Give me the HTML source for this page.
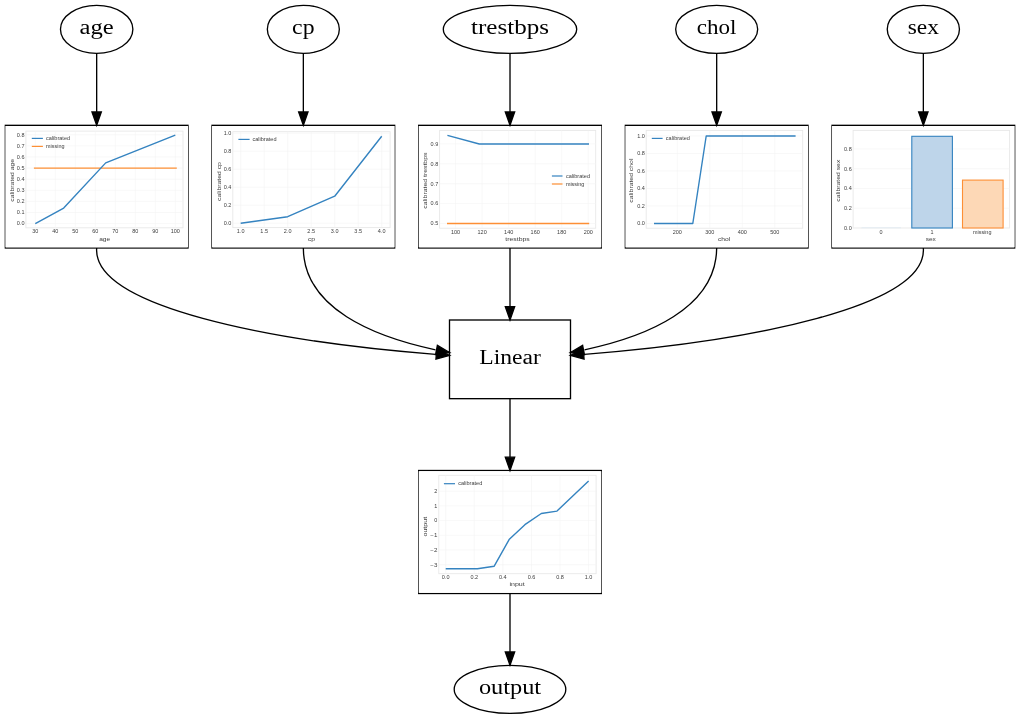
<!DOCTYPE html><html><head><meta charset="utf-8"><style>
html,body{margin:0;padding:0;background:#fff;}svg{display:block;will-change:transform;}
.lbl{font-family:"Liberation Serif",serif;font-size:19.98px;fill:#000;}
.s{font-family:"Liberation Sans",sans-serif;fill:#3c3c3c;}
</style></head><body>
<svg width="1020" height="719" viewBox="0 0 1020 719">
<rect width="1020" height="719" fill="#fff"/>
<rect x="5.34" y="125.33" width="182.66" height="122.67" fill="none" stroke="#000" stroke-width="1.333"/>
<rect x="5.34" y="126" width="182.66" height="121.34" fill="#fff"/>
<rect x="212.01" y="125.33" width="182.66" height="122.67" fill="none" stroke="#000" stroke-width="1.333"/>
<rect x="212.01" y="126" width="182.66" height="121.34" fill="#fff"/>
<rect x="418.68" y="125.33" width="182.66" height="122.67" fill="none" stroke="#000" stroke-width="1.333"/>
<rect x="418.68" y="126" width="182.66" height="121.34" fill="#fff"/>
<rect x="625.35" y="125.33" width="182.66" height="122.67" fill="none" stroke="#000" stroke-width="1.333"/>
<rect x="625.35" y="126" width="182.66" height="121.34" fill="#fff"/>
<rect x="832.02" y="125.33" width="182.66" height="122.67" fill="none" stroke="#000" stroke-width="1.333"/>
<rect x="832.02" y="126" width="182.66" height="121.34" fill="#fff"/>
<rect x="418.67" y="470.5" width="182.66" height="123" fill="none" stroke="#000" stroke-width="1.333"/>
<rect x="418.67" y="471.17" width="182.66" height="121.67" fill="#fff"/>
<defs><filter id="bl" x="-2%" y="-2%" width="104%" height="104%"><feGaussianBlur stdDeviation="0.35"/></filter></defs>
<g filter="url(#bl)">
<rect x="25.9" y="131.1" width="157.1" height="96.7" fill="#fff" stroke="#e8e8e8" stroke-width="0.9"/>
<line x1="35.3" y1="131.1" x2="35.3" y2="227.8" stroke="#f4f4f4" stroke-width="0.6"/>
<line x1="55.3" y1="131.1" x2="55.3" y2="227.8" stroke="#f4f4f4" stroke-width="0.6"/>
<line x1="75.3" y1="131.1" x2="75.3" y2="227.8" stroke="#f4f4f4" stroke-width="0.6"/>
<line x1="95.3" y1="131.1" x2="95.3" y2="227.8" stroke="#f4f4f4" stroke-width="0.6"/>
<line x1="115.3" y1="131.1" x2="115.3" y2="227.8" stroke="#f4f4f4" stroke-width="0.6"/>
<line x1="135.3" y1="131.1" x2="135.3" y2="227.8" stroke="#f4f4f4" stroke-width="0.6"/>
<line x1="155.3" y1="131.1" x2="155.3" y2="227.8" stroke="#f4f4f4" stroke-width="0.6"/>
<line x1="175.3" y1="131.1" x2="175.3" y2="227.8" stroke="#f4f4f4" stroke-width="0.6"/>
<line x1="25.9" y1="223.6" x2="183" y2="223.6" stroke="#f4f4f4" stroke-width="0.6"/>
<line x1="25.9" y1="212.5" x2="183" y2="212.5" stroke="#f4f4f4" stroke-width="0.6"/>
<line x1="25.9" y1="201.4" x2="183" y2="201.4" stroke="#f4f4f4" stroke-width="0.6"/>
<line x1="25.9" y1="190.3" x2="183" y2="190.3" stroke="#f4f4f4" stroke-width="0.6"/>
<line x1="25.9" y1="179.2" x2="183" y2="179.2" stroke="#f4f4f4" stroke-width="0.6"/>
<line x1="25.9" y1="168.1" x2="183" y2="168.1" stroke="#f4f4f4" stroke-width="0.6"/>
<line x1="25.9" y1="157" x2="183" y2="157" stroke="#f4f4f4" stroke-width="0.6"/>
<line x1="25.9" y1="145.9" x2="183" y2="145.9" stroke="#f4f4f4" stroke-width="0.6"/>
<line x1="25.9" y1="134.8" x2="183" y2="134.8" stroke="#f4f4f4" stroke-width="0.6"/>
<text x="35.3" y="233.4" font-size="5.04" text-anchor="middle" textLength="6.11" lengthAdjust="spacingAndGlyphs" class="s">30</text>
<text x="55.3" y="233.4" font-size="5.04" text-anchor="middle" textLength="6.11" lengthAdjust="spacingAndGlyphs" class="s">40</text>
<text x="75.3" y="233.4" font-size="5.04" text-anchor="middle" textLength="6.11" lengthAdjust="spacingAndGlyphs" class="s">50</text>
<text x="95.3" y="233.4" font-size="5.04" text-anchor="middle" textLength="6.11" lengthAdjust="spacingAndGlyphs" class="s">60</text>
<text x="115.3" y="233.4" font-size="5.04" text-anchor="middle" textLength="6.11" lengthAdjust="spacingAndGlyphs" class="s">70</text>
<text x="135.3" y="233.4" font-size="5.04" text-anchor="middle" textLength="6.11" lengthAdjust="spacingAndGlyphs" class="s">80</text>
<text x="155.3" y="233.4" font-size="5.04" text-anchor="middle" textLength="6.11" lengthAdjust="spacingAndGlyphs" class="s">90</text>
<text x="175.3" y="233.4" font-size="5.04" text-anchor="middle" textLength="9.16" lengthAdjust="spacingAndGlyphs" class="s">100</text>
<text x="24.5" y="225.4" font-size="5.04" text-anchor="end" textLength="7.63" lengthAdjust="spacingAndGlyphs" class="s">0.0</text>
<text x="24.5" y="214.3" font-size="5.04" text-anchor="end" textLength="7.63" lengthAdjust="spacingAndGlyphs" class="s">0.1</text>
<text x="24.5" y="203.2" font-size="5.04" text-anchor="end" textLength="7.63" lengthAdjust="spacingAndGlyphs" class="s">0.2</text>
<text x="24.5" y="192.1" font-size="5.04" text-anchor="end" textLength="7.63" lengthAdjust="spacingAndGlyphs" class="s">0.3</text>
<text x="24.5" y="181" font-size="5.04" text-anchor="end" textLength="7.63" lengthAdjust="spacingAndGlyphs" class="s">0.4</text>
<text x="24.5" y="169.9" font-size="5.04" text-anchor="end" textLength="7.63" lengthAdjust="spacingAndGlyphs" class="s">0.5</text>
<text x="24.5" y="158.8" font-size="5.04" text-anchor="end" textLength="7.63" lengthAdjust="spacingAndGlyphs" class="s">0.6</text>
<text x="24.5" y="147.7" font-size="5.04" text-anchor="end" textLength="7.63" lengthAdjust="spacingAndGlyphs" class="s">0.7</text>
<text x="24.5" y="136.6" font-size="5.04" text-anchor="end" textLength="7.63" lengthAdjust="spacingAndGlyphs" class="s">0.8</text>
<text x="104.7" y="240.7" font-size="6.25" text-anchor="middle" textLength="11.08" lengthAdjust="spacingAndGlyphs" class="s">age</text>
<text x="0" y="0" font-size="6.25" text-anchor="middle" textLength="42.84" lengthAdjust="spacingAndGlyphs" class="s" transform="translate(13.9,180.3) rotate(-90)">calibrated age</text>
<polyline points="33.9,168.1 176.8,168.1" fill="none" stroke="#fd8f35" stroke-width="1.4" stroke-linejoin="round"/>
<polyline points="35.3,223.6 63.7,208.06 105.7,162.88 175.3,135.13" fill="none" stroke="#3483c0" stroke-width="1.4" stroke-linejoin="round"/>
<line x1="31.8" y1="138.4" x2="42.9" y2="138.4" stroke="#3483c0" stroke-width="1.2"/>
<text x="46" y="140.1" font-size="5.04" text-anchor="start" textLength="24.09" lengthAdjust="spacingAndGlyphs" class="s">calibrated</text>
<line x1="31.8" y1="146.4" x2="42.9" y2="146.4" stroke="#fd8f35" stroke-width="1.2"/>
<text x="46" y="148.1" font-size="5.04" text-anchor="start" textLength="18.43" lengthAdjust="spacingAndGlyphs" class="s">missing</text>
<rect x="232.8" y="131.7" width="157.3" height="95.9" fill="#fff" stroke="#e8e8e8" stroke-width="0.9"/>
<line x1="240.7" y1="131.7" x2="240.7" y2="227.6" stroke="#f4f4f4" stroke-width="0.6"/>
<line x1="264.2" y1="131.7" x2="264.2" y2="227.6" stroke="#f4f4f4" stroke-width="0.6"/>
<line x1="287.7" y1="131.7" x2="287.7" y2="227.6" stroke="#f4f4f4" stroke-width="0.6"/>
<line x1="311.2" y1="131.7" x2="311.2" y2="227.6" stroke="#f4f4f4" stroke-width="0.6"/>
<line x1="334.7" y1="131.7" x2="334.7" y2="227.6" stroke="#f4f4f4" stroke-width="0.6"/>
<line x1="358.2" y1="131.7" x2="358.2" y2="227.6" stroke="#f4f4f4" stroke-width="0.6"/>
<line x1="381.7" y1="131.7" x2="381.7" y2="227.6" stroke="#f4f4f4" stroke-width="0.6"/>
<line x1="232.8" y1="223.2" x2="390.1" y2="223.2" stroke="#f4f4f4" stroke-width="0.6"/>
<line x1="232.8" y1="205.2" x2="390.1" y2="205.2" stroke="#f4f4f4" stroke-width="0.6"/>
<line x1="232.8" y1="187.2" x2="390.1" y2="187.2" stroke="#f4f4f4" stroke-width="0.6"/>
<line x1="232.8" y1="169.2" x2="390.1" y2="169.2" stroke="#f4f4f4" stroke-width="0.6"/>
<line x1="232.8" y1="151.2" x2="390.1" y2="151.2" stroke="#f4f4f4" stroke-width="0.6"/>
<line x1="232.8" y1="133.2" x2="390.1" y2="133.2" stroke="#f4f4f4" stroke-width="0.6"/>
<text x="240.7" y="233.2" font-size="5.04" text-anchor="middle" textLength="7.63" lengthAdjust="spacingAndGlyphs" class="s">1.0</text>
<text x="264.2" y="233.2" font-size="5.04" text-anchor="middle" textLength="7.63" lengthAdjust="spacingAndGlyphs" class="s">1.5</text>
<text x="287.7" y="233.2" font-size="5.04" text-anchor="middle" textLength="7.63" lengthAdjust="spacingAndGlyphs" class="s">2.0</text>
<text x="311.2" y="233.2" font-size="5.04" text-anchor="middle" textLength="7.63" lengthAdjust="spacingAndGlyphs" class="s">2.5</text>
<text x="334.7" y="233.2" font-size="5.04" text-anchor="middle" textLength="7.63" lengthAdjust="spacingAndGlyphs" class="s">3.0</text>
<text x="358.2" y="233.2" font-size="5.04" text-anchor="middle" textLength="7.63" lengthAdjust="spacingAndGlyphs" class="s">3.5</text>
<text x="381.7" y="233.2" font-size="5.04" text-anchor="middle" textLength="7.63" lengthAdjust="spacingAndGlyphs" class="s">4.0</text>
<text x="231.4" y="225" font-size="5.04" text-anchor="end" textLength="7.63" lengthAdjust="spacingAndGlyphs" class="s">0.0</text>
<text x="231.4" y="207" font-size="5.04" text-anchor="end" textLength="7.63" lengthAdjust="spacingAndGlyphs" class="s">0.2</text>
<text x="231.4" y="189" font-size="5.04" text-anchor="end" textLength="7.63" lengthAdjust="spacingAndGlyphs" class="s">0.4</text>
<text x="231.4" y="171" font-size="5.04" text-anchor="end" textLength="7.63" lengthAdjust="spacingAndGlyphs" class="s">0.6</text>
<text x="231.4" y="153" font-size="5.04" text-anchor="end" textLength="7.63" lengthAdjust="spacingAndGlyphs" class="s">0.8</text>
<text x="231.4" y="135" font-size="5.04" text-anchor="end" textLength="7.63" lengthAdjust="spacingAndGlyphs" class="s">1.0</text>
<text x="311.4" y="241" font-size="6.25" text-anchor="middle" textLength="7.05" lengthAdjust="spacingAndGlyphs" class="s">cp</text>
<text x="0" y="0" font-size="6.25" text-anchor="middle" textLength="38.8" lengthAdjust="spacingAndGlyphs" class="s" transform="translate(220.5,181.5) rotate(-90)">calibrated cp</text>
<polyline points="240.7,223.2 287.7,216.72 334.7,196.2 381.7,136.26" fill="none" stroke="#3483c0" stroke-width="1.4" stroke-linejoin="round"/>
<line x1="238.4" y1="139.4" x2="249.6" y2="139.4" stroke="#3483c0" stroke-width="1.2"/>
<text x="252.4" y="141.1" font-size="5.04" text-anchor="start" textLength="24.09" lengthAdjust="spacingAndGlyphs" class="s">calibrated</text>
<rect x="439.6" y="130.4" width="156.1" height="97.8" fill="#fff" stroke="#e8e8e8" stroke-width="0.9"/>
<line x1="455.6" y1="130.4" x2="455.6" y2="228.2" stroke="#f4f4f4" stroke-width="0.6"/>
<line x1="482.13" y1="130.4" x2="482.13" y2="228.2" stroke="#f4f4f4" stroke-width="0.6"/>
<line x1="508.66" y1="130.4" x2="508.66" y2="228.2" stroke="#f4f4f4" stroke-width="0.6"/>
<line x1="535.19" y1="130.4" x2="535.19" y2="228.2" stroke="#f4f4f4" stroke-width="0.6"/>
<line x1="561.72" y1="130.4" x2="561.72" y2="228.2" stroke="#f4f4f4" stroke-width="0.6"/>
<line x1="588.25" y1="130.4" x2="588.25" y2="228.2" stroke="#f4f4f4" stroke-width="0.6"/>
<line x1="439.6" y1="223.5" x2="595.7" y2="223.5" stroke="#f4f4f4" stroke-width="0.6"/>
<line x1="439.6" y1="203.6" x2="595.7" y2="203.6" stroke="#f4f4f4" stroke-width="0.6"/>
<line x1="439.6" y1="183.7" x2="595.7" y2="183.7" stroke="#f4f4f4" stroke-width="0.6"/>
<line x1="439.6" y1="163.8" x2="595.7" y2="163.8" stroke="#f4f4f4" stroke-width="0.6"/>
<line x1="439.6" y1="143.9" x2="595.7" y2="143.9" stroke="#f4f4f4" stroke-width="0.6"/>
<text x="455.6" y="233.8" font-size="5.04" text-anchor="middle" textLength="9.16" lengthAdjust="spacingAndGlyphs" class="s">100</text>
<text x="482.13" y="233.8" font-size="5.04" text-anchor="middle" textLength="9.16" lengthAdjust="spacingAndGlyphs" class="s">120</text>
<text x="508.66" y="233.8" font-size="5.04" text-anchor="middle" textLength="9.16" lengthAdjust="spacingAndGlyphs" class="s">140</text>
<text x="535.19" y="233.8" font-size="5.04" text-anchor="middle" textLength="9.16" lengthAdjust="spacingAndGlyphs" class="s">160</text>
<text x="561.72" y="233.8" font-size="5.04" text-anchor="middle" textLength="9.16" lengthAdjust="spacingAndGlyphs" class="s">180</text>
<text x="588.25" y="233.8" font-size="5.04" text-anchor="middle" textLength="9.16" lengthAdjust="spacingAndGlyphs" class="s">200</text>
<text x="438.2" y="225.3" font-size="5.04" text-anchor="end" textLength="7.63" lengthAdjust="spacingAndGlyphs" class="s">0.5</text>
<text x="438.2" y="205.4" font-size="5.04" text-anchor="end" textLength="7.63" lengthAdjust="spacingAndGlyphs" class="s">0.6</text>
<text x="438.2" y="185.5" font-size="5.04" text-anchor="end" textLength="7.63" lengthAdjust="spacingAndGlyphs" class="s">0.7</text>
<text x="438.2" y="165.6" font-size="5.04" text-anchor="end" textLength="7.63" lengthAdjust="spacingAndGlyphs" class="s">0.8</text>
<text x="438.2" y="145.7" font-size="5.04" text-anchor="end" textLength="7.63" lengthAdjust="spacingAndGlyphs" class="s">0.9</text>
<text x="517.5" y="240.9" font-size="6.25" text-anchor="middle" textLength="24.4" lengthAdjust="spacingAndGlyphs" class="s">trestbps</text>
<text x="0" y="0" font-size="6.25" text-anchor="middle" textLength="56.15" lengthAdjust="spacingAndGlyphs" class="s" transform="translate(427,180.65) rotate(-90)">calibrated trestbps</text>
<polyline points="447,223.5 589.2,223.5" fill="none" stroke="#fd8f35" stroke-width="1.4" stroke-linejoin="round"/>
<polyline points="447.4,135.4 479.3,144 589,144" fill="none" stroke="#3483c0" stroke-width="1.4" stroke-linejoin="round"/>
<line x1="551.9" y1="176" x2="562.5" y2="176" stroke="#3483c0" stroke-width="1.2"/>
<text x="565.9" y="177.7" font-size="5.04" text-anchor="start" textLength="24.09" lengthAdjust="spacingAndGlyphs" class="s">calibrated</text>
<line x1="551.9" y1="184" x2="562.5" y2="184" stroke="#fd8f35" stroke-width="1.2"/>
<text x="565.9" y="185.7" font-size="5.04" text-anchor="start" textLength="18.43" lengthAdjust="spacingAndGlyphs" class="s">missing</text>
<rect x="646.2" y="130.4" width="156.5" height="97.8" fill="#fff" stroke="#e8e8e8" stroke-width="0.9"/>
<line x1="677.3" y1="130.4" x2="677.3" y2="228.2" stroke="#f4f4f4" stroke-width="0.6"/>
<line x1="709.8" y1="130.4" x2="709.8" y2="228.2" stroke="#f4f4f4" stroke-width="0.6"/>
<line x1="742.3" y1="130.4" x2="742.3" y2="228.2" stroke="#f4f4f4" stroke-width="0.6"/>
<line x1="774.8" y1="130.4" x2="774.8" y2="228.2" stroke="#f4f4f4" stroke-width="0.6"/>
<line x1="646.2" y1="223.5" x2="802.7" y2="223.5" stroke="#f4f4f4" stroke-width="0.6"/>
<line x1="646.2" y1="206" x2="802.7" y2="206" stroke="#f4f4f4" stroke-width="0.6"/>
<line x1="646.2" y1="188.5" x2="802.7" y2="188.5" stroke="#f4f4f4" stroke-width="0.6"/>
<line x1="646.2" y1="171" x2="802.7" y2="171" stroke="#f4f4f4" stroke-width="0.6"/>
<line x1="646.2" y1="153.5" x2="802.7" y2="153.5" stroke="#f4f4f4" stroke-width="0.6"/>
<line x1="646.2" y1="136" x2="802.7" y2="136" stroke="#f4f4f4" stroke-width="0.6"/>
<text x="677.3" y="233.8" font-size="5.04" text-anchor="middle" textLength="9.16" lengthAdjust="spacingAndGlyphs" class="s">200</text>
<text x="709.8" y="233.8" font-size="5.04" text-anchor="middle" textLength="9.16" lengthAdjust="spacingAndGlyphs" class="s">300</text>
<text x="742.3" y="233.8" font-size="5.04" text-anchor="middle" textLength="9.16" lengthAdjust="spacingAndGlyphs" class="s">400</text>
<text x="774.8" y="233.8" font-size="5.04" text-anchor="middle" textLength="9.16" lengthAdjust="spacingAndGlyphs" class="s">500</text>
<text x="644.8" y="225.3" font-size="5.04" text-anchor="end" textLength="7.63" lengthAdjust="spacingAndGlyphs" class="s">0.0</text>
<text x="644.8" y="207.8" font-size="5.04" text-anchor="end" textLength="7.63" lengthAdjust="spacingAndGlyphs" class="s">0.2</text>
<text x="644.8" y="190.3" font-size="5.04" text-anchor="end" textLength="7.63" lengthAdjust="spacingAndGlyphs" class="s">0.4</text>
<text x="644.8" y="172.8" font-size="5.04" text-anchor="end" textLength="7.63" lengthAdjust="spacingAndGlyphs" class="s">0.6</text>
<text x="644.8" y="155.3" font-size="5.04" text-anchor="end" textLength="7.63" lengthAdjust="spacingAndGlyphs" class="s">0.8</text>
<text x="644.8" y="137.8" font-size="5.04" text-anchor="end" textLength="7.63" lengthAdjust="spacingAndGlyphs" class="s">1.0</text>
<text x="724.1" y="240.9" font-size="6.25" text-anchor="middle" textLength="12.34" lengthAdjust="spacingAndGlyphs" class="s">chol</text>
<text x="0" y="0" font-size="6.25" text-anchor="middle" textLength="44.09" lengthAdjust="spacingAndGlyphs" class="s" transform="translate(633,180.65) rotate(-90)">calibrated chol</text>
<polyline points="654,223.5 692.8,223.5 706.2,136 795.6,136" fill="none" stroke="#3483c0" stroke-width="1.4" stroke-linejoin="round"/>
<line x1="651.8" y1="138.4" x2="662.6" y2="138.4" stroke="#3483c0" stroke-width="1.2"/>
<text x="665.8" y="140.1" font-size="5.04" text-anchor="start" textLength="24.09" lengthAdjust="spacingAndGlyphs" class="s">calibrated</text>
<rect x="853.1" y="130.4" width="156.5" height="97.6" fill="#fff" stroke="#e8e8e8" stroke-width="0.9"/>
<line x1="853.1" y1="228" x2="1009.6" y2="228" stroke="#f4f4f4" stroke-width="0.6"/>
<line x1="853.1" y1="208.25" x2="1009.6" y2="208.25" stroke="#f4f4f4" stroke-width="0.6"/>
<line x1="853.1" y1="188.5" x2="1009.6" y2="188.5" stroke="#f4f4f4" stroke-width="0.6"/>
<line x1="853.1" y1="168.75" x2="1009.6" y2="168.75" stroke="#f4f4f4" stroke-width="0.6"/>
<line x1="853.1" y1="149" x2="1009.6" y2="149" stroke="#f4f4f4" stroke-width="0.6"/>
<text x="881.1" y="233.6" font-size="5.04" text-anchor="middle" textLength="3.05" lengthAdjust="spacingAndGlyphs" class="s">0</text>
<text x="932" y="233.6" font-size="5.04" text-anchor="middle" textLength="3.05" lengthAdjust="spacingAndGlyphs" class="s">1</text>
<text x="982.2" y="233.6" font-size="5.04" text-anchor="middle" textLength="18.43" lengthAdjust="spacingAndGlyphs" class="s">missing</text>
<text x="851.7" y="229.8" font-size="5.04" text-anchor="end" textLength="7.63" lengthAdjust="spacingAndGlyphs" class="s">0.0</text>
<text x="851.7" y="210.05" font-size="5.04" text-anchor="end" textLength="7.63" lengthAdjust="spacingAndGlyphs" class="s">0.2</text>
<text x="851.7" y="190.3" font-size="5.04" text-anchor="end" textLength="7.63" lengthAdjust="spacingAndGlyphs" class="s">0.4</text>
<text x="851.7" y="170.55" font-size="5.04" text-anchor="end" textLength="7.63" lengthAdjust="spacingAndGlyphs" class="s">0.6</text>
<text x="851.7" y="150.8" font-size="5.04" text-anchor="end" textLength="7.63" lengthAdjust="spacingAndGlyphs" class="s">0.8</text>
<text x="930.8" y="240.9" font-size="6.25" text-anchor="middle" textLength="10.18" lengthAdjust="spacingAndGlyphs" class="s">sex</text>
<text x="0" y="0" font-size="6.25" text-anchor="middle" textLength="41.93" lengthAdjust="spacingAndGlyphs" class="s" transform="translate(839.5,180.7) rotate(-90)">calibrated sex</text>
<rect x="911.8" y="136.3" width="40.6" height="91.7" fill="#bed5ea" stroke="#3483c0" stroke-width="1.1"/>
<rect x="962.5" y="180.1" width="40.6" height="47.9" fill="#fdd8b6" stroke="#fd8f35" stroke-width="1.1"/>
<line x1="861.5" y1="227.8" x2="901" y2="227.8" stroke="#d8e6f2" stroke-width="0.6"/>
<rect x="438.8" y="475.3" width="157.3" height="98.4" fill="#fff" stroke="#e8e8e8" stroke-width="0.9"/>
<line x1="445.7" y1="475.3" x2="445.7" y2="573.7" stroke="#f4f4f4" stroke-width="0.6"/>
<line x1="474.28" y1="475.3" x2="474.28" y2="573.7" stroke="#f4f4f4" stroke-width="0.6"/>
<line x1="502.86" y1="475.3" x2="502.86" y2="573.7" stroke="#f4f4f4" stroke-width="0.6"/>
<line x1="531.44" y1="475.3" x2="531.44" y2="573.7" stroke="#f4f4f4" stroke-width="0.6"/>
<line x1="560.02" y1="475.3" x2="560.02" y2="573.7" stroke="#f4f4f4" stroke-width="0.6"/>
<line x1="588.6" y1="475.3" x2="588.6" y2="573.7" stroke="#f4f4f4" stroke-width="0.6"/>
<line x1="438.8" y1="564.7" x2="596.1" y2="564.7" stroke="#f4f4f4" stroke-width="0.6"/>
<line x1="438.8" y1="550" x2="596.1" y2="550" stroke="#f4f4f4" stroke-width="0.6"/>
<line x1="438.8" y1="535.3" x2="596.1" y2="535.3" stroke="#f4f4f4" stroke-width="0.6"/>
<line x1="438.8" y1="520.6" x2="596.1" y2="520.6" stroke="#f4f4f4" stroke-width="0.6"/>
<line x1="438.8" y1="505.9" x2="596.1" y2="505.9" stroke="#f4f4f4" stroke-width="0.6"/>
<line x1="438.8" y1="491.2" x2="596.1" y2="491.2" stroke="#f4f4f4" stroke-width="0.6"/>
<text x="445.7" y="579.3" font-size="5.04" text-anchor="middle" textLength="7.63" lengthAdjust="spacingAndGlyphs" class="s">0.0</text>
<text x="474.28" y="579.3" font-size="5.04" text-anchor="middle" textLength="7.63" lengthAdjust="spacingAndGlyphs" class="s">0.2</text>
<text x="502.86" y="579.3" font-size="5.04" text-anchor="middle" textLength="7.63" lengthAdjust="spacingAndGlyphs" class="s">0.4</text>
<text x="531.44" y="579.3" font-size="5.04" text-anchor="middle" textLength="7.63" lengthAdjust="spacingAndGlyphs" class="s">0.6</text>
<text x="560.02" y="579.3" font-size="5.04" text-anchor="middle" textLength="7.63" lengthAdjust="spacingAndGlyphs" class="s">0.8</text>
<text x="588.6" y="579.3" font-size="5.04" text-anchor="middle" textLength="7.63" lengthAdjust="spacingAndGlyphs" class="s">1.0</text>
<text x="437.4" y="566.5" font-size="5.04" text-anchor="end" textLength="7.08" lengthAdjust="spacingAndGlyphs" class="s">−3</text>
<text x="437.4" y="551.8" font-size="5.04" text-anchor="end" textLength="7.08" lengthAdjust="spacingAndGlyphs" class="s">−2</text>
<text x="437.4" y="537.1" font-size="5.04" text-anchor="end" textLength="7.08" lengthAdjust="spacingAndGlyphs" class="s">−1</text>
<text x="437.4" y="522.4" font-size="5.04" text-anchor="end" textLength="3.05" lengthAdjust="spacingAndGlyphs" class="s">0</text>
<text x="437.4" y="507.7" font-size="5.04" text-anchor="end" textLength="3.05" lengthAdjust="spacingAndGlyphs" class="s">1</text>
<text x="437.4" y="493" font-size="5.04" text-anchor="end" textLength="3.05" lengthAdjust="spacingAndGlyphs" class="s">2</text>
<text x="517.1" y="586" font-size="6.25" text-anchor="middle" textLength="15.31" lengthAdjust="spacingAndGlyphs" class="s">input</text>
<text x="0" y="0" font-size="6.25" text-anchor="middle" textLength="19.63" lengthAdjust="spacingAndGlyphs" class="s" transform="translate(426.5,526.7) rotate(-90)">output</text>
<polyline points="445.7,568.8 477.4,568.8 494.2,566.2 509.1,539.6 524.9,524.7 541.3,513.5 557,511.1 588.6,480.9" fill="none" stroke="#3483c0" stroke-width="1.4" stroke-linejoin="round"/>
<line x1="443.9" y1="483.7" x2="455" y2="483.7" stroke="#3483c0" stroke-width="1.2"/>
<text x="458.2" y="485.4" font-size="5.04" text-anchor="start" textLength="24.09" lengthAdjust="spacingAndGlyphs" class="s">calibrated</text>
</g>
<rect x="449.5" y="320" width="121" height="78.67" fill="none" stroke="#000" stroke-width="1.333"/>
<text x="510" y="363.9" text-anchor="middle" class="lbl" textLength="61.5" lengthAdjust="spacingAndGlyphs">Linear</text>
<ellipse cx="96.67" cy="29.33" rx="36.2" ry="24" fill="none" stroke="#000" stroke-width="1.333"/>
<text x="96.67" y="34" text-anchor="middle" class="lbl" textLength="34.13" lengthAdjust="spacingAndGlyphs">age</text>
<path d="M96.67,53.33L96.67,112" stroke="#000" stroke-width="1.333" fill="none"/>
<polygon points="92,112 96.67,125.33 101.34,112" fill="#000" stroke="#000" stroke-width="1.333"/>
<ellipse cx="303.34" cy="29.33" rx="36" ry="24" fill="none" stroke="#000" stroke-width="1.333"/>
<text x="303.34" y="34" text-anchor="middle" class="lbl" textLength="22.41" lengthAdjust="spacingAndGlyphs">cp</text>
<path d="M303.34,53.33L303.34,112" stroke="#000" stroke-width="1.333" fill="none"/>
<polygon points="298.67,112 303.34,125.33 308.01,112" fill="#000" stroke="#000" stroke-width="1.333"/>
<ellipse cx="510.01" cy="29.33" rx="66.7" ry="24" fill="none" stroke="#000" stroke-width="1.333"/>
<text x="510.01" y="34" text-anchor="middle" class="lbl" textLength="78.04" lengthAdjust="spacingAndGlyphs">trestbps</text>
<path d="M510.01,53.33L510.01,112" stroke="#000" stroke-width="1.333" fill="none"/>
<polygon points="505.34,112 510.01,125.33 514.68,112" fill="#000" stroke="#000" stroke-width="1.333"/>
<ellipse cx="716.68" cy="29.33" rx="41" ry="24" fill="none" stroke="#000" stroke-width="1.333"/>
<text x="716.68" y="34" text-anchor="middle" class="lbl" textLength="39.69" lengthAdjust="spacingAndGlyphs">chol</text>
<path d="M716.68,53.33L716.68,112" stroke="#000" stroke-width="1.333" fill="none"/>
<polygon points="712.01,112 716.68,125.33 721.35,112" fill="#000" stroke="#000" stroke-width="1.333"/>
<ellipse cx="923.35" cy="29.33" rx="36.1" ry="24" fill="none" stroke="#000" stroke-width="1.333"/>
<text x="923.35" y="34" text-anchor="middle" class="lbl" textLength="31.16" lengthAdjust="spacingAndGlyphs">sex</text>
<path d="M923.35,53.33L923.35,112" stroke="#000" stroke-width="1.333" fill="none"/>
<polygon points="918.68,112 923.35,125.33 928.02,112" fill="#000" stroke="#000" stroke-width="1.333"/>
<ellipse cx="510" cy="689.33" rx="55.8" ry="24" fill="none" stroke="#000" stroke-width="1.333"/>
<text x="510" y="693.9" text-anchor="middle" class="lbl" textLength="62.25" lengthAdjust="spacingAndGlyphs">output</text>
<path d="M510,248L510,306.67" stroke="#000" stroke-width="1.333" fill="none"/>
<polygon points="505.33,306.67 510,320 514.67,306.67" fill="#000" stroke="#000" stroke-width="1.333"/>
<path d="M510,398.67L510,457.17" stroke="#000" stroke-width="1.333" fill="none"/>
<polygon points="505.33,457.17 510,470.5 514.67,457.17" fill="#000" stroke="#000" stroke-width="1.333"/>
<path d="M510,593.5L510,652" stroke="#000" stroke-width="1.333" fill="none"/>
<polygon points="505.33,652 510,665.33 514.67,652" fill="#000" stroke="#000" stroke-width="1.333"/>
<path d="M96.67,248 C92.36,306.77 271.04,341.47 435.5,354.3" stroke="#000" stroke-width="1.333" fill="none"/>
<polygon points="435.95,359.02 449.6,355.4 436.67,349.71" fill="#000" stroke="#000" stroke-width="1.333"/>
<path d="M303.33,248 C303.71,308.67 374.38,336.82 435.5,349.8" stroke="#000" stroke-width="1.333" fill="none"/>
<polygon points="435.63,354.58 449.6,352.5 437.39,345.41" fill="#000" stroke="#000" stroke-width="1.333"/>
<path d="M923.33,248 C927.64,306.77 748.96,341.47 584.5,354.3" stroke="#000" stroke-width="1.333" fill="none"/>
<polygon points="583.33,349.71 570.4,355.4 584.05,359.02" fill="#000" stroke="#000" stroke-width="1.333"/>
<path d="M716.67,248 C716.29,308.67 645.62,336.82 584.5,349.8" stroke="#000" stroke-width="1.333" fill="none"/>
<polygon points="582.61,345.41 570.4,352.5 584.37,354.58" fill="#000" stroke="#000" stroke-width="1.333"/>
</svg></body></html>
